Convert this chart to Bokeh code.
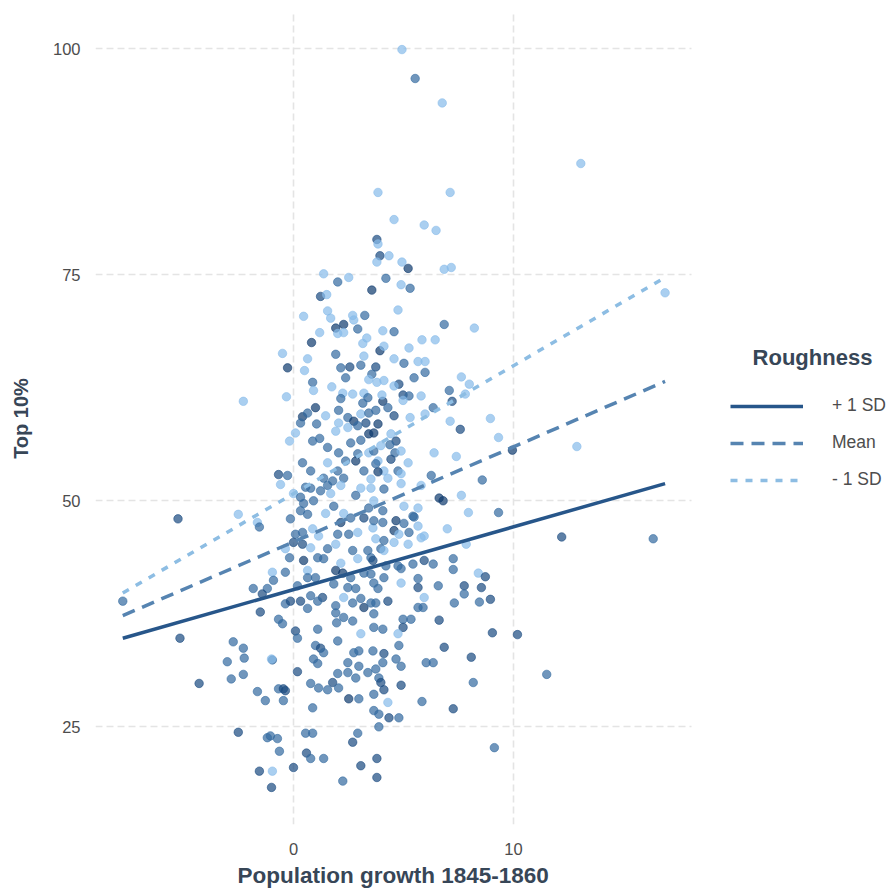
from bokeh.plotting import figure
from bokeh.models import Legend, LegendItem, Label, FixedTicker, ColumnDataSource, Title
from bokeh.transform import linear_cmap
from bokeh.embed import file_html
from bokeh.resources import INLINE

# ---- data ----
pop_growth = [
    4.93, 5.53, 6.76, 13.06, 7.12, 3.84, 4.57, 5.94, 6.48, 3.79,
    3.84, 3.93, 4.34, 3.79, 4.93, 5.21, 6.85, 7.17, 1.37, 2.01,
    2.51, 4.20, 3.56, 4.89, 5.30, 16.89, 1.23, 1.51, 0.46, 1.55,
    1.69, 2.69, 3.24, 4.75, 6.85, 8.22, 1.92, 2.28, 2.92, 2.74,
    2.01, 2.28, 4.57, 4.06, 1.19, 0.82, 3.33, 3.15, 5.84, 6.44,
    3.93, 4.11, 5.25, -0.50, -0.27, 0.64, 0.50, 0.87, 0.91, 1.92,
    2.15, 2.56, 3.06, 3.20, 3.74, 3.56, 2.37, 3.42, 4.11, 4.57,
    5.02, 5.66, 5.98, 5.98, 5.48, 4.79, 4.57, 3.79, 7.63, 7.99,
    7.81, 1.74, 2.24, 2.15, 2.69, 3.20, 3.38, 3.15, 4.06, 4.29,
    4.02, 4.98, 5.25, 5.80, 7.08, 7.21, 6.35, 4.98, 1.00, -0.32,
    -2.28, 1.46, 2.05, 2.47, 2.74, 3.06, 3.42, 3.29, 3.74, 0.41,
    0.64, 0.32, 1.05, 2.05, 1.92, 2.47, 2.92, 3.42, 0.09, -0.18,
    0.87, 1.19, 1.55, 2.05, 2.60, 3.06, 2.92, 3.42, 2.83, 4.57,
    5.30, 5.98, 7.12, 3.84, 3.65, 4.43, 7.58, 4.66, 4.38, 3.97,
    3.65, 4.61, 4.89, 6.39, 7.40, 4.43, 3.84, 5.21, 4.11, 4.75,
    3.84, 4.89, 6.26, 8.58, 4.29, 8.95, 9.32, 9.95, 12.88, 0.41,
    0.78, 1.55, 2.01, 2.37, 3.20, 3.74, -0.68, -0.27, 1.37, 1.78,
    2.28, 3.52, -0.59, 0.00, 0.78, 0.91, 0.46, 1.55, 1.69, 2.15,
    2.83, 3.06, 3.42, 3.52, 0.55, 0.32, 1.23, -0.14, 0.64, 1.46,
    1.83, 2.28, 2.15, 2.60, 3.20, 3.61, 0.09, 0.41, 0.87, 1.14,
    2.01, 2.51, 2.92, 0.00, 0.41, -0.37, 0.78, 1.55, 1.92, 2.69,
    3.38, 3.52, -0.18, 0.46, 1.10, 1.37, 2.15, 2.92, -0.96, -0.37,
    0.64, 1.92, 2.24, 2.60, 3.20, 3.52, -1.19, -0.91, 0.18, 0.64,
    1.00, 1.83, 2.47, 2.83, 3.65, -1.42, -0.37, -0.14, 0.32, 0.78,
    1.32, 1.10, 1.92, 2.28, 2.69, 3.06, 3.20, 3.52, 0.64, 1.92,
    2.28, 2.69, -0.68, -0.50, 0.09, 0.18, 1.10, 1.96, 3.06, 3.65,
    2.01, 1.00, 1.23, 1.37, 2.74, 2.97, 3.61, -0.96, 0.91, 1.10,
    2.47, 2.97, 0.18, 2.01, 2.47, 2.83, 3.38, -0.68, -0.46, 0.78,
    1.14, 1.55, 1.78, 2.05, 2.51, 2.97, -1.28, -0.46, 0.87, 4.11,
    4.89, 5.80, 6.62, 6.80, 7.63, 7.95, 3.65, 4.06, 5.02, 5.66,
    5.43, 6.99, 3.65, 4.06, 4.66, 5.02, 4.57, 5.25, 5.80, 5.94,
    4.79, 3.74, 4.11, 4.57, 5.21, 3.97, 4.11, 7.85, 3.61, 4.20,
    4.75, 4.89, 5.43, 5.94, 6.35, 7.26, 7.26, 4.11, 5.66, 8.40,
    8.72, 3.84, 4.89, 5.66, 6.58, 7.76, 7.76, 8.54, 5.94, 3.74,
    4.29, 5.66, 5.89, 7.31, 8.45, 8.95, 3.65, 5.34, 4.98, 6.62,
    4.06, 4.98, 4.75, 9.04, 10.18, 4.79, 6.85, 4.11, 4.66, 4.06,
    6.03, 6.35, 8.08, 4.89, 11.51, 3.74, 3.88, 3.97, 4.11, 4.89,
    8.17, 3.65, 4.29, 5.84, 7.26, 3.65, 3.88, 4.34, 4.79, 9.13,
    12.19, 16.35, 9.32, 5.48, 5.66, -5.25, -2.51, -1.64, -1.55, 0.32,
    -1.83, -7.76, -1.51, -5.16, -2.74, -2.28, -2.24, -3.01, -1.00, -2.83,
    -2.28, -4.29, -1.64, -0.37, -2.51, -1.19, -1.05, -0.73, -0.64, -1.55,
    -0.96, 0.00, -1.00, 0.55, 0.87, 0.59, 0.78, 1.37, 2.69, 2.92,
    3.06, 3.79, 3.79, 2.24, 3.88,
]
top10 = [
    99.9, 96.7, 94.0, 87.3, 84.1, 84.1, 81.1, 80.5, 79.9, 78.9,
    78.4, 77.1, 77.1, 76.4, 76.4, 75.7, 75.6, 75.8, 75.1, 74.2,
    74.7, 74.6, 73.3, 73.9, 73.5, 73.0, 72.6, 72.8, 70.4, 71.0,
    70.2, 70.5, 70.5, 71.1, 69.5, 69.1, 69.1, 69.5, 69.0, 70.0,
    68.5, 68.6, 68.7, 68.8, 68.6, 67.5, 68.0, 67.4, 67.8, 67.8,
    66.6, 67.1, 66.9, 66.3, 64.7, 65.7, 64.4, 63.1, 62.2, 66.2,
    64.7, 64.8, 65.0, 66.0, 64.8, 64.0, 63.6, 63.4, 63.3, 65.7,
    65.2, 65.4, 65.4, 64.2, 63.6, 62.9, 62.7, 63.1, 63.7, 62.9,
    61.8, 62.6, 61.9, 61.3, 61.8, 61.9, 61.4, 60.8, 61.0, 60.3,
    61.7, 61.7, 61.6, 61.6, 62.2, 61.0, 60.3, 61.1, 60.3, 61.5,
    61.0, 59.4, 60.0, 59.2, 58.8, 59.6, 59.7, 58.6, 60.0, 59.3,
    59.7, 58.6, 58.5, 58.6, 57.7, 58.1, 58.3, 57.4, 57.5, 56.6,
    56.6, 56.9, 55.9, 55.3, 56.4, 56.7, 55.2, 55.3, 54.4, 59.4,
    59.2, 59.6, 58.8, 58.5, 57.5, 57.4, 57.9, 56.6, 56.2, 56.1,
    55.5, 55.3, 55.5, 55.3, 54.9, 54.6, 54.4, 54.2, 53.3, 53.3,
    53.2, 53.0, 52.8, 52.3, 52.5, 59.1, 57.0, 55.6, 56.0, 54.2,
    53.3, 54.2, 53.3, 54.4, 53.3, 54.1, 52.9, 52.8, 52.5, 52.2,
    52.5, 52.4, 51.8, 50.8, 51.4, 50.0, 49.7, 51.7, 50.8, 51.7,
    50.6, 51.4, 49.2, 51.4, 51.5, 50.4, 51.1, 48.0, 48.5, 48.6,
    49.4, 48.6, 47.6, 48.1, 48.1, 47.0, 46.3, 46.5, 46.9, 46.1,
    46.3, 46.3, 46.5, 45.4, 45.2, 44.7, 44.8, 44.7, 45.2, 44.5,
    44.5, 43.7, 43.7, 43.4, 43.7, 43.6, 43.1, 43.6, 42.1, 42.1,
    42.3, 42.3, 42.0, 41.5, 42.0, 41.9, 40.3, 41.2, 40.6, 41.5,
    41.5, 40.8, 40.4, 40.3, 40.9, 39.7, 38.6, 38.9, 38.9, 39.5,
    39.3, 38.9, 38.4, 39.3, 38.7, 39.2, 38.2, 38.7, 38.1, 37.6,
    37.1, 36.7, 36.9, 36.4, 35.6, 34.8, 35.8, 36.5, 35.3, 36.0,
    34.5, 34.0, 33.7, 33.2, 33.2, 33.4, 33.4, 32.4, 32.5, 32.0,
    32.1, 31.7, 31.1, 30.9, 31.0, 30.4, 31.0, 29.2, 29.2, 29.8,
    29.3, 29.1, 29.9, 29.3, 28.1, 28.1, 27.9, 27.9, 27.1, 51.3,
    51.9, 51.7, 50.3, 50.0, 50.6, 48.7, 50.0, 48.9, 49.4, 49.2,
    48.3, 46.9, 47.8, 47.6, 47.8, 47.5, 46.7, 46.5, 45.9, 46.1,
    46.3, 45.8, 45.6, 45.4, 45.2, 44.7, 44.5, 45.2, 43.4, 42.8,
    42.8, 42.5, 43.0, 43.4, 43.0, 43.6, 42.4, 41.5, 41.4, 42.0,
    41.6, 40.3, 40.9, 40.4, 40.6, 40.6, 39.7, 40.4, 39.3, 38.7,
    38.9, 38.2, 38.2, 38.7, 38.8, 39.1, 37.5, 36.9, 36.9, 36.8,
    35.8, 36.0, 35.3, 35.4, 35.2, 34.0, 33.8, 33.1, 32.5, 32.1,
    32.1, 32.1, 32.7, 31.7, 30.8, 31.4, 30.4, 29.9, 29.1, 29.6,
    29.9, 28.6, 27.7, 27.8, 27.0, 26.8, 26.4, 26.0, 26.0, 22.7,
    46.0, 45.8, 48.7, 48.2, 47.2, 48.0, 48.5, 47.6, 47.1, 48.9,
    40.3, 38.9, 37.7, 34.8, 34.4, 33.7, 32.6, 32.2, 32.5, 30.3,
    30.8, 29.8, 28.9, 29.0, 24.4, 23.8, 24.0, 23.7, 22.3, 20.1,
    20.1, 20.5, 18.3, 24.3, 24.3, 22.1, 21.5, 21.5, 23.3, 24.3,
    20.7, 21.5, 19.4, 19.0, 25.0,
]
roughness = [
    -1.0, 0.1, -1.0, -1.0, -1.0, -1.0, -1.0, -1.0, -1.0, 0.7,
    -1.0, 0.7, -1.0, -1.0, -1.0, 1.3, -1.0, -1.0, -1.0, 0.1,
    -1.0, 0.1, 1.3, -1.0, 0.1, -1.0, 0.7, -1.0, -1.0, -1.0,
    -1.0, -1.0, 0.1, -1.0, 0.1, -1.0, 1.3, 1.3, 0.1, -1.0,
    -1.0, -1.0, 0.1, -1.0, -1.0, 1.3, -1.0, -1.0, -1.0, -1.0,
    1.3, -1.0, -1.0, -1.0, 1.3, -1.0, -1.0, 0.1, -1.0, 0.1,
    0.1, 0.7, 0.1, -1.0, 0.7, 0.1, 0.1, -1.0, -1.0, -1.0,
    0.1, -1.0, -1.0, 0.1, 0.1, 0.7, -1.0, -1.0, -1.0, -1.0,
    -1.0, -1.0, -1.0, 0.1, -1.0, -1.0, 0.1, 0.1, 1.3, 0.1,
    -1.0, 0.7, 0.1, -1.0, 0.1, 0.7, 0.1, -1.0, 1.3, -1.0,
    -1.0, -1.0, 0.1, 0.1, 1.3, -1.0, 0.1, 0.7, 0.1, 1.3,
    0.1, 0.1, 0.1, -1.0, -1.0, -1.0, 0.1, 1.3, -1.0, -1.0,
    0.1, 0.1, 0.1, 0.1, 0.1, 0.1, 0.1, -1.0, 1.3, 0.7,
    -1.0, -1.0, -1.0, 1.3, 1.3, -1.0, 0.7, 0.7, 0.1, -1.0,
    0.1, 0.1, -1.0, -1.0, -1.0, 0.7, -1.0, -1.0, -1.0, 0.1,
    1.3, -1.0, 0.1, 0.1, -1.0, -1.0, -1.0, 1.3, -1.0, 0.1,
    0.1, -1.0, 0.1, 0.1, 0.1, 0.1, 0.7, 0.1, 0.1, 0.1,
    0.1, -1.0, -1.0, -1.0, 0.1, 0.1, 0.1, 0.1, -1.0, -1.0,
    0.1, -1.0, 0.1, -1.0, 0.1, 0.1, 0.1, 0.1, 0.1, -1.0,
    0.1, -1.0, 1.3, 0.1, 0.7, -1.0, 0.1, 0.1, -1.0, -1.0,
    0.1, 0.1, -1.0, 0.7, 0.7, -1.0, -1.0, 0.1, -1.0, 0.1,
    0.1, 0.1, 0.1, 1.3, 0.1, 0.1, -1.0, -1.0, -1.0, 0.1,
    -1.0, 1.3, 1.3, 0.1, 0.1, 0.1, 0.1, 0.1, 0.1, 0.1,
    0.1, 0.1, 0.1, 0.1, 0.1, 0.7, 0.1, 0.7, 0.7, 0.1,
    0.7, 0.1, 0.1, -1.0, 0.1, 0.1, 1.3, 0.1, 0.1, 0.1,
    0.1, 0.1, 0.1, 0.1, 0.7, 0.1, 0.1, 0.1, -1.0, 0.1,
    0.1, 0.1, 0.7, 0.1, 0.1, 0.1, 0.1, 0.1, 0.1, 0.1,
    0.1, 0.1, 0.7, 0.1, 0.1, 0.1, 0.1, 0.1, 0.7, 0.1,
    0.1, 0.1, 0.7, 0.1, 1.3, 0.1, 0.1, 0.1, 0.1, 0.1,
    -1.0, -1.0, 1.3, 1.3, -1.0, -1.0, -1.0, 0.1, -1.0, -1.0,
    0.1, -1.0, 0.1, 0.1, 1.3, 0.1, 1.3, 0.1, -1.0, -1.0,
    -1.0, -1.0, 0.1, -1.0, -1.0, 0.1, -1.0, -1.0, 0.7, 0.1,
    0.1, 0.1, 0.1, 0.7, 0.1, 0.1, 0.1, 0.1, 0.1, -1.0,
    0.7, 0.1, -1.0, 0.7, 0.1, 0.7, 0.1, 0.7, -1.0, 0.1,
    0.7, 0.1, 0.1, 0.1, 0.1, 0.7, 0.1, 0.1, 0.1, 0.7,
    0.1, 0.7, -1.0, 0.7, 0.7, 0.1, 0.7, 0.7, 0.1, 0.1,
    0.1, 0.1, 0.7, 0.1, 0.1, 0.1, 0.1, 0.7, 0.7, 0.7,
    0.1, 0.1, -1.0, 0.1, 0.7, 0.1, 0.1, 0.7, 0.1, 0.1,
    0.7, 0.1, 0.1, 0.1, -1.0, 0.7, -1.0, -1.0, 0.1, 0.1,
    0.1, 0.1, 0.7, 0.7, 0.1, 0.1, 0.1, 0.1, -1.0, 0.1,
    0.1, 0.7, 0.1, 0.7, 0.7, 0.1, 0.1, 0.1, 0.1, 0.7,
    -1.0, 0.7, 0.7, 0.1, 0.1, 0.7, 0.1, 0.1, 0.7, 0.1,
    0.7, 0.7, 0.7, 0.1, 0.1,
]

# fitted lines (predicted Top 10% at the ends of the x span)
line_x = [-7.76, 16.89]
fit_plus_sd = [34.8, 51.9]
fit_mean = [37.3, 63.2]
fit_minus_sd = [39.8, 74.7]

legend_labels = ["+ 1 SD", "Mean", "- 1 SD"]
x_ticks = [0, 10]
y_ticks = [25, 50, 75, 100]
panel_x = (-9.0, 18.1)      # data extent of the plotting panel

FONT = "Liberation Sans"
TITLE_COLOR = "#374657"
TICK_COLOR = "#4d4d4d"

# the frame is widened to the right so the legend sits inside it (not clipped);
# grid lines and the x axis are bounded to the real panel extent
p = figure(
    width=890, height=892,
    x_range=(-9.0, 27.136), y_range=(14.2, 104.0),
    min_border_left=95, min_border_right=0, min_border_top=12, min_border_bottom=68,
    output_backend="svg", toolbar_location=None,
    background_fill_color="white", border_fill_color="white",
)
p.outline_line_color = None

# grid
for g in (p.xgrid, p.ygrid):
    g.grid_line_color = "#e4e4e4"
    g.grid_line_width = 1.6
    g.grid_line_dash = "7 4"
p.xgrid.ticker = FixedTicker(ticks=x_ticks)
p.ygrid.ticker = FixedTicker(ticks=y_ticks)
p.ygrid.cross_bounds = panel_x

# axes
p.xaxis.ticker = FixedTicker(ticks=x_ticks)
p.yaxis.ticker = FixedTicker(ticks=y_ticks)
p.xaxis.bounds = panel_x
for ax in (p.xaxis[0], p.yaxis[0]):
    ax.axis_line_color = None
    ax.major_tick_line_color = None
    ax.minor_tick_line_color = None
    ax.major_tick_out = 0
    ax.major_tick_in = 0
    ax.major_label_text_font = FONT
    ax.major_label_text_font_size = "16.5px"
    ax.major_label_text_color = TICK_COLOR
    ax.axis_label_text_font = FONT
    ax.axis_label_text_font_style = "bold"
    ax.axis_label_text_color = TITLE_COLOR

p.yaxis.axis_label = "Top 10%"
p.yaxis.axis_label_text_font_size = "20px"
p.xaxis.major_label_standoff = 18
p.yaxis.major_label_standoff = 15
p.yaxis.axis_label_standoff = 18

# x-axis title centred under the panel (not under the widened frame)
p.add_layout(Title(text="Population growth 1845-1860", align="left", offset=142,
                   vertical_align="middle", standoff=8,
                   text_font=FONT, text_font_size="22.5px", text_font_style="bold",
                   text_color=TITLE_COLOR), "below")

# points
src = ColumnDataSource(dict(pop_growth=pop_growth, top10=top10, roughness=roughness))
palette = ["#86bbea", "#5c8fc2", "#336aa0", "#1a4a80", "#0e3a6e"]
cmap = linear_cmap("roughness", palette, low=-1.2, high=1.4)
p.scatter(x="pop_growth", y="top10", source=src, size=8.5, marker="circle",
          fill_color=cmap, fill_alpha=0.7, line_color=cmap, line_alpha=0.7, line_width=0.8)

# fitted lines
r_plus = p.line(line_x, fit_plus_sd, line_width=3.5, line_color="#27568a")
r_mean = p.line(line_x, fit_mean, line_width=3.5, line_color="#5684b1", line_dash="13 8")
r_minus = p.line(line_x, fit_minus_sd, line_width=3.5, line_color="#8dbde3", line_dash="7 8")

legend = Legend(
    items=[LegendItem(label=legend_labels[0], renderers=[r_plus]),
           LegendItem(label=legend_labels[1], renderers=[r_mean]),
           LegendItem(label=legend_labels[2], renderers=[r_minus])],
    location=(635, 334), orientation="vertical",
    padding=0, margin=0, spacing=16,
    glyph_width=73, glyph_height=20, label_height=20, label_standoff=29,
    label_text_font=FONT, label_text_font_size="17.5px", label_text_color="#4d4d4d",
    border_line_alpha=0, background_fill_alpha=0,
)
p.add_layout(legend, "center")

p.add_layout(Label(x=717, y=467, x_units="screen", y_units="screen", text="Roughness",
                   text_align="center", text_baseline="middle",
                   text_font=FONT, text_font_size="22px", text_font_style="bold",
                   text_color=TITLE_COLOR))

open("out.html", "w").write(file_html(p, INLINE))
